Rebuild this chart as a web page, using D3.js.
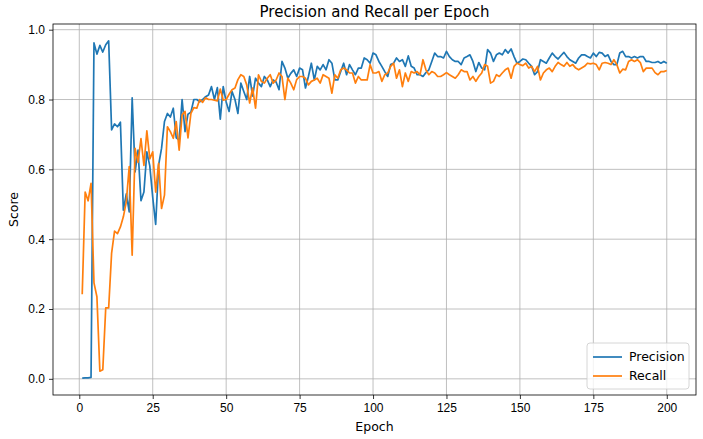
<!DOCTYPE html>
<html>
<head>
<meta charset="utf-8">
<script src="https://cdn.jsdelivr.net/npm/d3@7"></script>
<style>
  body { margin: 0; background: #fff; }
  svg { display: block; font-family: "DejaVu Sans", sans-serif; }
  .grid line { stroke: #b0b0b0; stroke-width: 0.8; }
  .axis path, .axis line { stroke: #000; stroke-width: 0.8; }
  .axis text { font-size: 12px; fill: #000; }
</style>
</head>
<body>
<script>
// values, epochs 1..200
let precision = [
  0.002, 0.003, 0.003, 0.004, 0.962, 0.930, 0.955, 0.936, 0.957, 0.968,
  0.713, 0.730, 0.722, 0.735, 0.483, 0.530, 0.478, 0.805, 0.593, 0.655,
  0.510, 0.535, 0.650, 0.610, 0.520, 0.442, 0.612, 0.660, 0.737, 0.760,
  0.750, 0.775, 0.690, 0.684, 0.800, 0.708, 0.758, 0.764, 0.800, 0.800,
  0.793, 0.800, 0.808, 0.813, 0.837, 0.800, 0.834, 0.744, 0.837, 0.793,
  0.766, 0.823, 0.800, 0.760, 0.847, 0.823, 0.800, 0.866, 0.810, 0.861,
  0.847, 0.837, 0.866, 0.856, 0.837, 0.856, 0.850, 0.828, 0.909, 0.890,
  0.861, 0.875, 0.885, 0.866, 0.890, 0.885, 0.833, 0.866, 0.904, 0.856,
  0.895, 0.885, 0.900, 0.885, 0.914, 0.904, 0.856, 0.856, 0.880, 0.904,
  0.871, 0.900, 0.885, 0.871, 0.890, 0.890, 0.919, 0.914, 0.904, 0.933,
  0.928, 0.909, 0.895, 0.880, 0.866, 0.900, 0.904, 0.919, 0.909, 0.914,
  0.895, 0.925, 0.895, 0.890, 0.871, 0.871, 0.866, 0.877, 0.885, 0.909,
  0.933, 0.923, 0.923, 0.919, 0.938, 0.923, 0.914, 0.909, 0.909, 0.900,
  0.919, 0.923, 0.928, 0.909, 0.880, 0.906, 0.890, 0.885, 0.943, 0.933,
  0.909, 0.928, 0.933, 0.928, 0.943, 0.933, 0.945, 0.923, 0.904, 0.909,
  0.916, 0.914, 0.904, 0.895, 0.871, 0.880, 0.914, 0.909, 0.904, 0.919,
  0.933, 0.923, 0.916, 0.926, 0.935, 0.923, 0.914, 0.909, 0.904, 0.919,
  0.928, 0.928, 0.923, 0.919, 0.933, 0.923, 0.935, 0.933, 0.923, 0.928,
  0.909, 0.900, 0.900, 0.933, 0.938, 0.923, 0.923, 0.919, 0.923, 0.919,
  0.923, 0.923, 0.909, 0.909, 0.906, 0.906, 0.909, 0.904, 0.909, 0.904
];

let recall = [
  0.242, 0.535, 0.510, 0.560, 0.275, 0.235, 0.022, 0.026, 0.203, 0.203,
  0.360, 0.423, 0.416, 0.435, 0.464, 0.507, 0.608, 0.354, 0.660, 0.620,
  0.688, 0.611, 0.710, 0.630, 0.650, 0.535, 0.617, 0.488, 0.526, 0.722,
  0.708, 0.689, 0.737, 0.655, 0.756, 0.766, 0.690, 0.760, 0.777, 0.775,
  0.800, 0.792, 0.805, 0.800, 0.800, 0.798, 0.796, 0.830, 0.798, 0.800,
  0.815, 0.828, 0.833, 0.857, 0.871, 0.866, 0.842, 0.790, 0.833, 0.775,
  0.871, 0.852, 0.847, 0.861, 0.871, 0.847, 0.856, 0.876, 0.866, 0.800,
  0.861, 0.847, 0.828, 0.857, 0.866, 0.866, 0.861, 0.842, 0.852, 0.856,
  0.861, 0.847, 0.871, 0.866, 0.861, 0.818, 0.871, 0.861, 0.885, 0.890,
  0.885, 0.876, 0.876, 0.847, 0.866, 0.856, 0.856, 0.856, 0.900, 0.876,
  0.876, 0.880, 0.852, 0.871, 0.876, 0.895, 0.904, 0.861, 0.885, 0.837,
  0.876, 0.852, 0.880, 0.876, 0.880, 0.871, 0.914, 0.885, 0.871, 0.880,
  0.876, 0.866, 0.866, 0.871, 0.877, 0.871, 0.866, 0.861, 0.871, 0.885,
  0.880, 0.880, 0.856, 0.866, 0.852, 0.866, 0.876, 0.900, 0.895, 0.847,
  0.852, 0.871, 0.866, 0.876, 0.885, 0.890, 0.861, 0.895, 0.904, 0.900,
  0.897, 0.904, 0.890, 0.895, 0.880, 0.895, 0.856, 0.876, 0.885, 0.890,
  0.880, 0.895, 0.906, 0.900, 0.895, 0.906, 0.895, 0.900, 0.890, 0.885,
  0.890, 0.895, 0.904, 0.902, 0.904, 0.900, 0.885, 0.904, 0.906, 0.904,
  0.900, 0.914, 0.900, 0.876, 0.887, 0.885, 0.909, 0.914, 0.909, 0.914,
  0.906, 0.880, 0.890, 0.890, 0.890, 0.877, 0.871, 0.880, 0.880, 0.883
];

let xTicks = [0, 25, 50, 75, 100, 125, 150, 175, 200];
let yTicks = [0.0, 0.2, 0.4, 0.6, 0.8, 1.0];
let seriesNames = ["Precision", "Recall"];
let seriesColors = ["#1f77b4", "#ff7f0e"];

let width = 703,
    height = 439,
    margin = {top: 24, right: 7, bottom: 44, left: 53};

let epochs = precision.map(function(d, i) { return i + 1; });

// matplotlib style 5% margins
let xPad = (epochs[epochs.length - 1] - epochs[0]) * 0.05;
let allVals = precision.concat(recall);
let yMin = d3.min(allVals), yMax = d3.max(allVals);
let yPad = (yMax - yMin) * 0.05;

let x = d3.scaleLinear()
    .domain([epochs[0] - xPad, epochs[epochs.length - 1] + xPad])
    .range([margin.left, width - margin.right]);

let y = d3.scaleLinear()
    .domain([yMin - yPad, yMax + yPad])
    .range([height - margin.bottom, margin.top]);

let svg = d3.select("body").append("svg")
    .attr("width", width)
    .attr("height", height);

// grid
let grid = svg.append("g").attr("class", "grid");
grid.selectAll(".gx")
    .data(xTicks)
    .enter().append("line")
    .attr("x1", function(d) { return x(d); })
    .attr("x2", function(d) { return x(d); })
    .attr("y1", margin.top)
    .attr("y2", height - margin.bottom);
grid.selectAll(".gy")
    .data(yTicks)
    .enter().append("line")
    .attr("x1", margin.left)
    .attr("x2", width - margin.right)
    .attr("y1", function(d) { return y(d); })
    .attr("y2", function(d) { return y(d); });

// lines
let series = [precision, recall];
let line = d3.line()
    .x(function(d, i) { return x(epochs[i]); })
    .y(function(d) { return y(d); });

svg.selectAll(".series")
    .data(series)
    .enter().append("path")
    .attr("class", "series")
    .attr("fill", "none")
    .attr("stroke", function(d, i) { return seriesColors[i]; })
    .attr("stroke-width", 1.7)
    .attr("stroke-linejoin", "round")
    .attr("d", line);

// spines
svg.append("rect")
    .attr("x", margin.left)
    .attr("y", margin.top)
    .attr("width", width - margin.left - margin.right)
    .attr("height", height - margin.top - margin.bottom)
    .attr("fill", "none")
    .attr("stroke", "#000")
    .attr("stroke-width", 0.8);

// axes
svg.append("g")
    .attr("class", "axis")
    .attr("transform", "translate(0," + (height - margin.bottom) + ")")
    .call(d3.axisBottom(x).tickValues(xTicks).tickSize(4).tickPadding(4).tickFormat(d3.format("d")))
    .call(function(g) { g.select(".domain").remove(); });

svg.append("g")
    .attr("class", "axis")
    .attr("transform", "translate(" + margin.left + ",0)")
    .call(d3.axisLeft(y).tickValues(yTicks).tickSize(4).tickPadding(4).tickFormat(d3.format(".1f")))
    .call(function(g) { g.select(".domain").remove(); });

// labels
svg.append("text")
    .attr("x", (margin.left + width - margin.right) / 2)
    .attr("y", 17)
    .attr("text-anchor", "middle")
    .style("font-size", "15px")
    .text("Precision and Recall per Epoch");

svg.append("text")
    .attr("x", (margin.left + width - margin.right) / 2)
    .attr("y", 431)
    .attr("text-anchor", "middle")
    .style("font-size", "12.5px")
    .text("Epoch");

svg.append("text")
    .attr("transform", "translate(18," + ((margin.top + height - margin.bottom) / 2) + ") rotate(-90)")
    .attr("text-anchor", "middle")
    .style("font-size", "12.5px")
    .text("Score");

// legend
let lg = svg.append("g")
    .attr("transform", "translate(" + (width - margin.right - 109) + "," + (height - margin.bottom - 52) + ")");

lg.append("rect")
    .attr("width", 102)
    .attr("height", 46)
    .attr("rx", 3)
    .attr("fill", "#fff")
    .attr("fill-opacity", 0.8)
    .attr("stroke", "#cccccc")
    .attr("stroke-width", 0.8);

let item = lg.selectAll(".item")
    .data(seriesNames)
    .enter().append("g")
    .attr("transform", function(d, i) { return "translate(6," + (14 + i * 19) + ")"; });

item.append("line")
    .attr("x1", 0).attr("x2", 29)
    .attr("stroke", function(d, i) { return seriesColors[i]; })
    .attr("stroke-width", 1.7);

item.append("text")
    .attr("x", 36)
    .attr("dy", "0.35em")
    .style("font-size", "12.5px")
    .text(function(d) { return d; });
</script>
</body>
</html>
